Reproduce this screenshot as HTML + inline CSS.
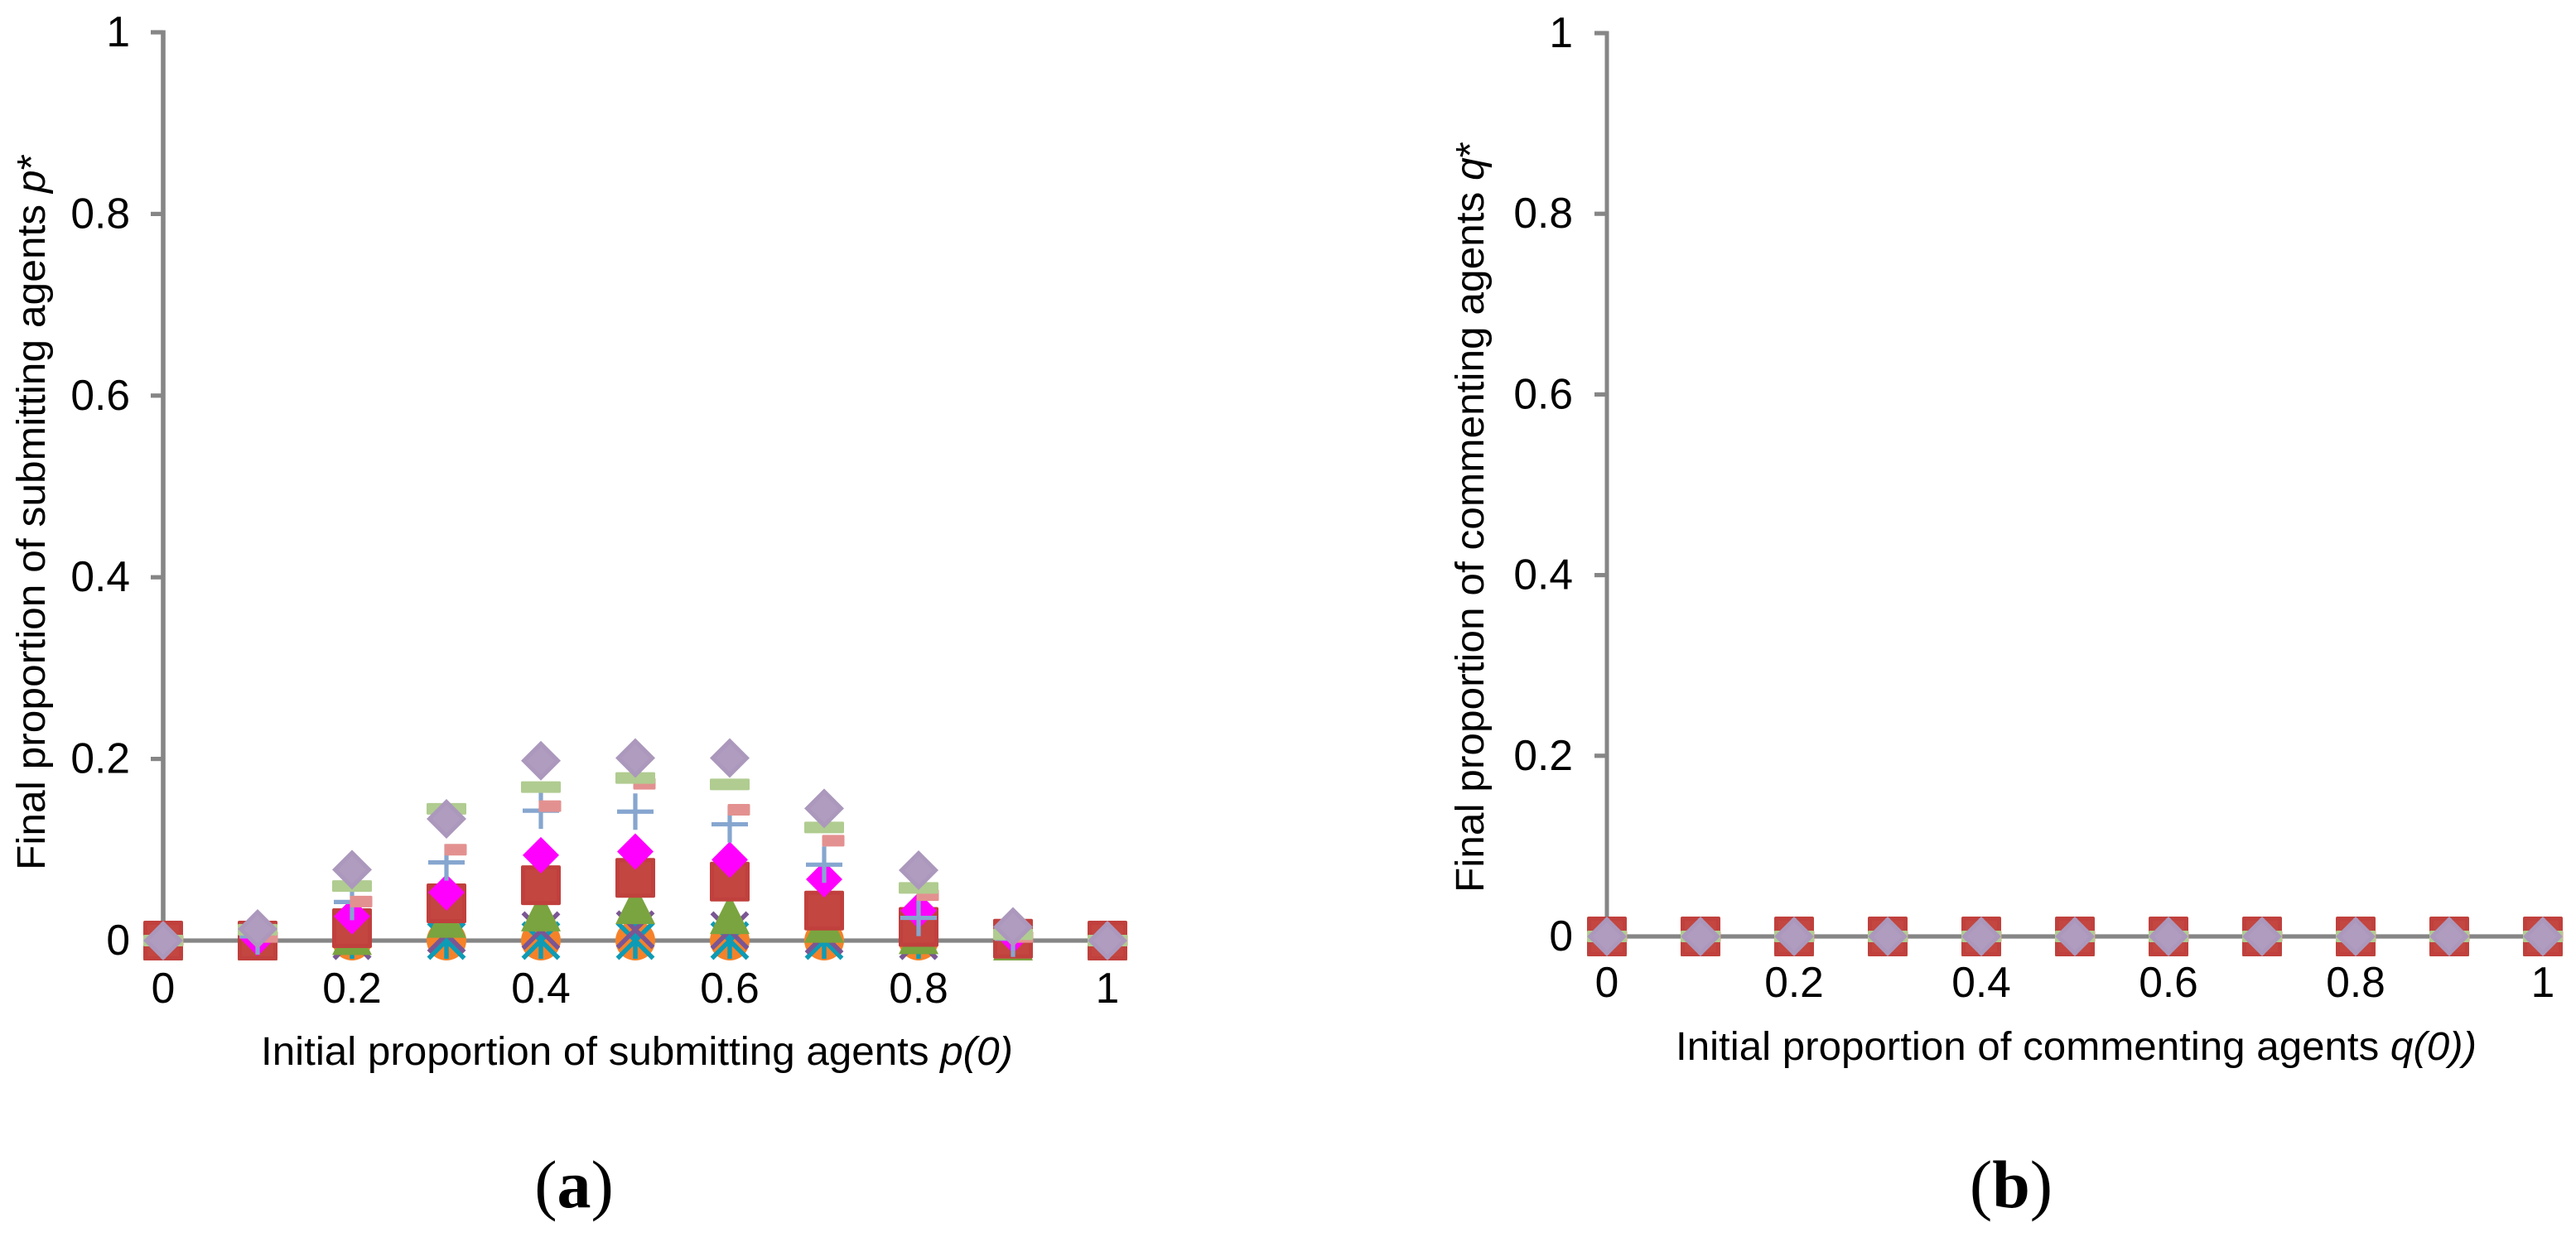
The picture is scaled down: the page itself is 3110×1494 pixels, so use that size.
<!DOCTYPE html>
<html lang="en">
<head>
<meta charset="utf-8">
<title>Final versus initial proportion of agents</title>
<style>
html,body{margin:0;padding:0;background:#fff;}
svg{display:block;}
text{font-family:"Liberation Sans",Arial,sans-serif;fill:#000;}
.tick{font-size:51.5px;}
.title{font-size:48px;}
.cap{font-family:"Liberation Serif","Times New Roman",serif;font-size:82px;}
</style>
</head>
<body>
<svg id="figure" xmlns="http://www.w3.org/2000/svg" width="3110" height="1494" viewBox="0 0 3110 1494">
  <rect x="0" y="0" width="3110" height="1494" fill="#ffffff"/>
  <g id="chart-a"></g>
  <g id="chart-b"></g>

  <text class="title" transform="translate(54 1051) rotate(-90)" textLength="865" lengthAdjust="spacingAndGlyphs">Final proportion of submitting agents <tspan font-style="italic">p</tspan>*</text>
  <text class="title" x="315" y="1286" textLength="908" lengthAdjust="spacingAndGlyphs">Initial proportion of submitting agents <tspan font-style="italic">p(0)</tspan></text>
  <text class="title" transform="translate(1791 1078) rotate(-90)" textLength="907" lengthAdjust="spacingAndGlyphs">Final proportion of commenting agents <tspan font-style="italic">q</tspan>*</text>
  <text class="title" x="2023" y="1280" textLength="967" lengthAdjust="spacingAndGlyphs">Initial proportion of commenting agents <tspan font-style="italic">q(0))</tspan></text>

  <text class="cap" x="693" y="1458" text-anchor="middle">(<tspan font-weight="bold">a</tspan>)</text>
  <text class="cap" x="2428" y="1458" text-anchor="middle">(<tspan font-weight="bold">b</tspan>)</text>
</svg>

<script>
// Shared axis data
const xCategories = [0, 0.1, 0.2, 0.3, 0.4, 0.5, 0.6, 0.7, 0.8, 0.9, 1];
const xTickValues = [0, 0.2, 0.4, 0.6, 0.8, 1];
const xTickLabels = ['0', '0.2', '0.4', '0.6', '0.8', '1'];
const yTickValues = [0, 0.2, 0.4, 0.6, 0.8, 1];
const yTickLabels = ['0', '0.2', '0.4', '0.6', '0.8', '1'];

// Chart (a): final proportion of submitting agents, one array per series
const aOrangeCircle  = [0, 0, 0, 0, 0, 0, 0, 0, 0, 0, 0];
const aTealStar      = [0, 0, 0, 0, 0, 0, 0, 0, 0, 0, 0];
const aPurpleCross   = [0, 0, 0, 0.007, 0.011, 0.012, 0.011, 0.006, 0, 0, 0];
const aGreenTriangle = [0, 0, 0.006, 0.025, 0.032, 0.04, 0.029, 0.0195, 0.007, 0, 0];
const aRedSquare     = [0, 0, 0.0137, 0.041, 0.061, 0.069, 0.065, 0.033, 0.015, 0.002, 0];
const aMagentaDiamond= [0, 0.003, 0.0267, 0.053, 0.094, 0.098, 0.089, 0.0675, 0.033, 0.006, 0];
const aBluePlus      = [0, 0.0046, 0.0425, 0.086, 0.143, 0.142, 0.128, 0.0836, 0.025, 0.002, 0];
const aPinkDash      = [0, 0.004, 0.043, 0.1, 0.148, 0.1726, 0.144, 0.11, 0.05, 0.004, 0];
const aGreenDash     = [0, 0.012, 0.06, 0.145, 0.169, 0.179, 0.172, 0.1246, 0.058, 0.007, 0];
const aLavenderDiamond = [0, 0.0128, 0.078, 0.134, 0.198, 0.201, 0.201, 0.1455, 0.0775, 0.015, 0];

// Chart (b): final proportion of commenting agents, one array per series
const bOrangeCircle  = [0, 0, 0, 0, 0, 0, 0, 0, 0, 0, 0];
const bTealStar      = [0, 0, 0, 0, 0, 0, 0, 0, 0, 0, 0];
const bPurpleCross   = [0, 0, 0, 0, 0, 0, 0, 0, 0, 0, 0];
const bGreenTriangle = [0, 0, 0, 0, 0, 0, 0, 0, 0, 0, 0];
const bRedSquare     = [0, 0, 0, 0, 0, 0, 0, 0, 0, 0, 0];
const bMagentaDiamond= [0, 0, 0, 0, 0, 0, 0, 0, 0, 0, 0];
const bBluePlus      = [0, 0, 0, 0, 0, 0, 0, 0, 0, 0, 0];
const bPinkDash      = [0, 0, 0, 0, 0, 0, 0, 0, 0, 0, 0];
const bGreenDash     = [0, 0, 0, 0, 0, 0, 0, 0, 0, 0, 0];
const bLavenderDiamond = [0, 0, 0, 0, 0, 0, 0, 0, 0, 0, 0];

const NS = 'http://www.w3.org/2000/svg';
const AXIS = '#868686';

function node(tag, attrs, parent) {
  const el = document.createElementNS(NS, tag);
  for (const k in attrs) el.setAttribute(k, attrs[k]);
  parent.appendChild(el);
  return el;
}

function diamond(g, x, y, h, fill, stroke) {
  node('polygon', {points: (x-h)+','+y+' '+x+','+(y-h)+' '+(x+h)+','+y+' '+x+','+(y+h), fill: fill}, g);
  if (stroke) node('polygon', {points: (x-h+7)+','+y+' '+x+','+(y-h+7)+' '+(x+h-7)+','+y+' '+x+','+(y+h-7), fill: stroke}, g);
}

const markerDrawers = {
  circle: function (g, x, y) {
    node('circle', {cx: x, cy: y, r: 24, fill: '#F58229'}, g);
  },
  star: function (g, x, y) {
    const p = {stroke: '#0E9BB5', 'stroke-width': 5.5, fill: 'none'};
    node('path', Object.assign({d: 'M'+(x-21.5)+' '+(y-21.5)+'L'+(x+21.5)+' '+(y+21.5)+'M'+(x+21.5)+' '+(y-21.5)+'L'+(x-21.5)+' '+(y+21.5)+'M'+x+' '+(y-22)+'L'+x+' '+(y+22)}, p), g);
  },
  cross: function (g, x, y) {
    const p = {stroke: '#7B5694', 'stroke-width': 5.5, fill: 'none'};
    node('path', Object.assign({d: 'M'+(x-21.5)+' '+(y-21.5)+'L'+(x+21.5)+' '+(y+21.5)+'M'+(x+21.5)+' '+(y-21.5)+'L'+(x-21.5)+' '+(y+21.5)}, p), g);
  },
  triangle: function (g, x, y) {
    node('polygon', {points: (x-24)+','+(y+24)+' '+x+','+(y-24)+' '+(x+24)+','+(y+24), fill: '#7AA43F'}, g);
  },
  square: function (g, x, y) {
    node('rect', {x: x-24, y: y-24, width: 48, height: 48, rx: 2, fill: '#C0403D'}, g);
    node('rect', {x: x-19, y: y-19, width: 38, height: 38, fill: '#C34640'}, g);
  },
  magenta: function (g, x, y) {
    diamond(g, x, y, 22, '#FF00FF');
  },
  plus: function (g, x, y) {
    node('path', {d: 'M'+(x-22)+' '+y+'L'+(x+22)+' '+y+'M'+x+' '+(y-22)+'L'+x+' '+(y+22), stroke: '#86A6CF', 'stroke-width': 5.2, fill: 'none'}, g);
  },
  pink: function (g, x, y) {
    node('rect', {x: x-2.5, y: y-7, width: 27, height: 14, rx: 1.5, fill: '#E39190'}, g);
  },
  dash: function (g, x, y) {
    node('rect', {x: x-24, y: y-7, width: 48, height: 14, rx: 1.5, fill: '#B0CC90'}, g);
  },
  lavender: function (g, x, y) {
    diamond(g, x, y, 24, '#AB98BC', '#AF9CBF');
  }
};

function drawChart(rootId, prefix, geo, seriesList) {
  const root = document.getElementById(rootId);
  const xScale = function (v) { return geo.x0 + v * geo.xSpan; };
  const yScale = function (v) { return geo.y0 - v * geo.ySpan; };

  const yAxis = node('line', {x1: xScale(0), x2: xScale(0), y1: yScale(1) - 2.5, y2: yScale(0), stroke: AXIS, 'stroke-width': geo.axisW}, root);
  
  

  yTickValues.forEach(function (v, i) {
    const t = node('line', {x1: xScale(0) - 15, x2: xScale(0), y1: yScale(v), y2: yScale(v), stroke: AXIS, 'stroke-width': 5.2}, root);
    
    
    const l = node('text', {'class': 'tick', x: geo.yLabelX, y: yScale(v) + 17, 'text-anchor': 'end'}, root);
    l.textContent = yTickLabels[i];
    
    
  });

  const xAxis = node('line', {x1: xScale(0), x2: xScale(1), y1: yScale(0), y2: yScale(0), stroke: AXIS, 'stroke-width': 5.2}, root);
  
  

  xTickValues.forEach(function (v, i) {
    const l = node('text', {'class': 'tick', x: xScale(v), y: geo.xLabelY, 'text-anchor': 'middle'}, root);
    l.textContent = xTickLabels[i];
    
    
  });

  seriesList.forEach(function (s) {
    const sg = node('g', {}, root);
    
    
    s.values.forEach(function (v, i) {
      const g = node('g', {}, sg);
      
      
      markerDrawers[s.marker](g, xScale(xCategories[i]), yScale(v));
    });
  });
}

drawChart('chart-a', 'chart-a',
  {x0: 197, xSpan: 1140, y0: 1136, ySpan: 1097, axisW: 5.6, yLabelX: 157, xLabelY: 1211},
  [
    {name: 'orange-circle', marker: 'circle', values: aOrangeCircle},
    {name: 'teal-star', marker: 'star', values: aTealStar},
    {name: 'purple-cross', marker: 'cross', values: aPurpleCross},
    {name: 'green-triangle', marker: 'triangle', values: aGreenTriangle},
    {name: 'red-square', marker: 'square', values: aRedSquare},
    {name: 'magenta-diamond', marker: 'magenta', values: aMagentaDiamond},
    {name: 'blue-plus', marker: 'plus', values: aBluePlus},
    {name: 'pink-dash', marker: 'pink', values: aPinkDash},
    {name: 'green-dash', marker: 'dash', values: aGreenDash},
    {name: 'lavender-diamond', marker: 'lavender', values: aLavenderDiamond}
  ]);

drawChart('chart-b', 'chart-b',
  {x0: 1940, xSpan: 1130, y0: 1131, ySpan: 1091, axisW: 5, yLabelX: 1899, xLabelY: 1204},
  [
    {name: 'orange-circle', marker: 'circle', values: bOrangeCircle},
    {name: 'teal-star', marker: 'star', values: bTealStar},
    {name: 'purple-cross', marker: 'cross', values: bPurpleCross},
    {name: 'green-triangle', marker: 'triangle', values: bGreenTriangle},
    {name: 'red-square', marker: 'square', values: bRedSquare},
    {name: 'magenta-diamond', marker: 'magenta', values: bMagentaDiamond},
    {name: 'blue-plus', marker: 'plus', values: bBluePlus},
    {name: 'pink-dash', marker: 'pink', values: bPinkDash},
    {name: 'green-dash', marker: 'dash', values: bGreenDash},
    {name: 'lavender-diamond', marker: 'lavender', values: bLavenderDiamond}
  ]);
</script>
</body>
</html>
